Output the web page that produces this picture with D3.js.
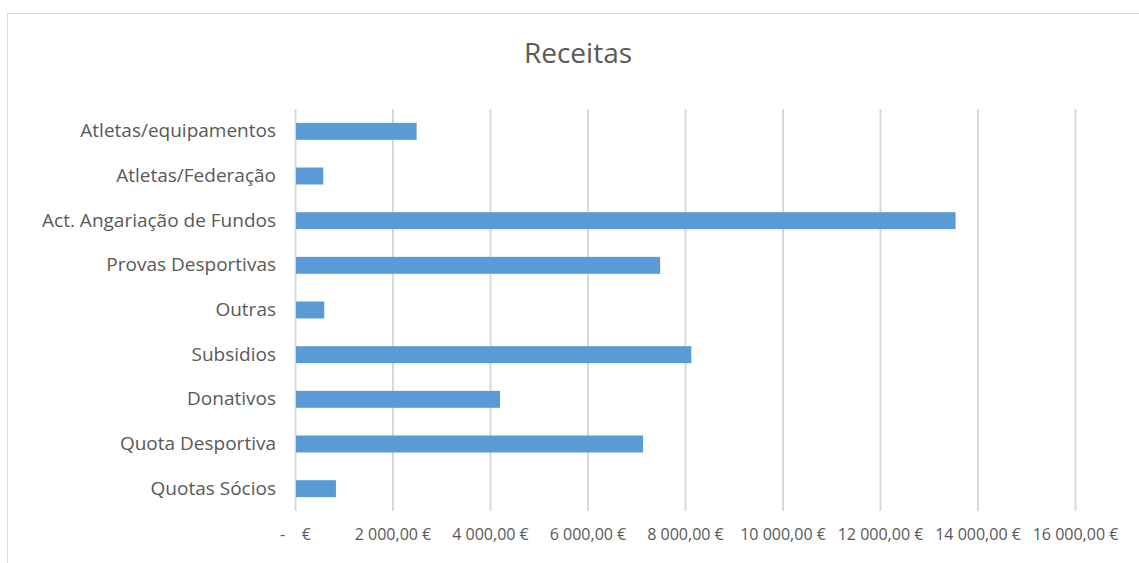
<!DOCTYPE html>
<html>
<head>
<meta charset="utf-8">
<title>Receitas</title>
<script src="https://d3js.org/d3.v7.min.js"></script>
<style>
  body { margin: 0; background: #fff; }
  text { font-family: "Open Sans", "Noto Sans", sans-serif; fill: #595959; }
</style>
</head>
<body>
<div id="chart"></div>
<script>
// data, top to bottom as shown
var categories = ["Atletas/equipamentos", "Atletas/Federação", "Act. Angariação de Fundos",
  "Provas Desportivas", "Outras", "Subsidios", "Donativos", "Quota Desportiva", "Quotas Sócios"];
var values = [2495, 580, 13550, 7490, 600, 8130, 4205, 7140, 840];
var tickValues = [0, 2000, 4000, 6000, 8000, 10000, 12000, 14000, 16000];
var tickLabels = ["-\u00a0\u00a0\u00a0\u00a0€", "2 000,00 €", "4 000,00 €", "6 000,00 €", "8 000,00 €",
  "10 000,00 €", "12 000,00 €", "14 000,00 €", "16 000,00 €"];

var W = 1139, H = 563;
var margin = {top: 109, right: 64, bottom: 52, left: 295};

var svg = d3.select("#chart").append("svg")
  .attr("width", W).attr("height", H);

// chart frame (only top/left visible in the original)
svg.append("rect")
  .attr("x", 7.5).attr("y", 13.5)
  .attr("width", W + 20).attr("height", H + 20)
  .attr("fill", "none").attr("stroke", "#d9d9d9");

svg.append("text")
  .attr("x", 578).attr("y", 63)
  .attr("text-anchor", "middle")
  .style("font-size", "28px")
  .text("Receitas");

var x = d3.scaleLinear().domain([0, 16000]).range([margin.left, W - margin.right]);
var y = d3.scaleBand().domain(categories)
  .range([margin.top, H - margin.bottom])
  .paddingInner(0.62).paddingOuter(0.31);

// gridlines
svg.append("g").selectAll("line")
  .data(tickValues).enter().append("line")
  .attr("x1", function(d) { return x(d) + 0.5; })
  .attr("x2", function(d) { return x(d) + 0.5; })
  .attr("y1", margin.top).attr("y2", H - margin.bottom)
  .attr("stroke", "#d9d9d9").attr("stroke-width", 2);

// bars
svg.append("g").selectAll("rect")
  .data(values).enter().append("rect")
  .attr("x", x(0) + 1)
  .attr("y", function(d, i) { return y(categories[i]); })
  .attr("width", function(d) { return x(d) - x(0) - 1; })
  .attr("height", y.bandwidth())
  .attr("fill", "#5b9bd5");

// category labels
var yAxis = svg.append("g")
  .attr("transform", "translate(" + (margin.left - 19) + ",0)")
  .call(d3.axisLeft(y).tickSize(0).tickPadding(0));
yAxis.select(".domain").remove();
yAxis.selectAll("text").style("font-size", "19px").attr("fill", "#595959");

// value labels
var xAxis = svg.append("g")
  .attr("transform", "translate(0," + (H - margin.bottom) + ")")
  .call(d3.axisBottom(x).tickValues(tickValues)
    .tickFormat(function(d, i) { return tickLabels[i]; })
    .tickSize(0).tickPadding(18));
xAxis.select(".domain").remove();
xAxis.selectAll("text").style("font-size", "16px").attr("fill", "#595959");
</script>
</body>
</html>
